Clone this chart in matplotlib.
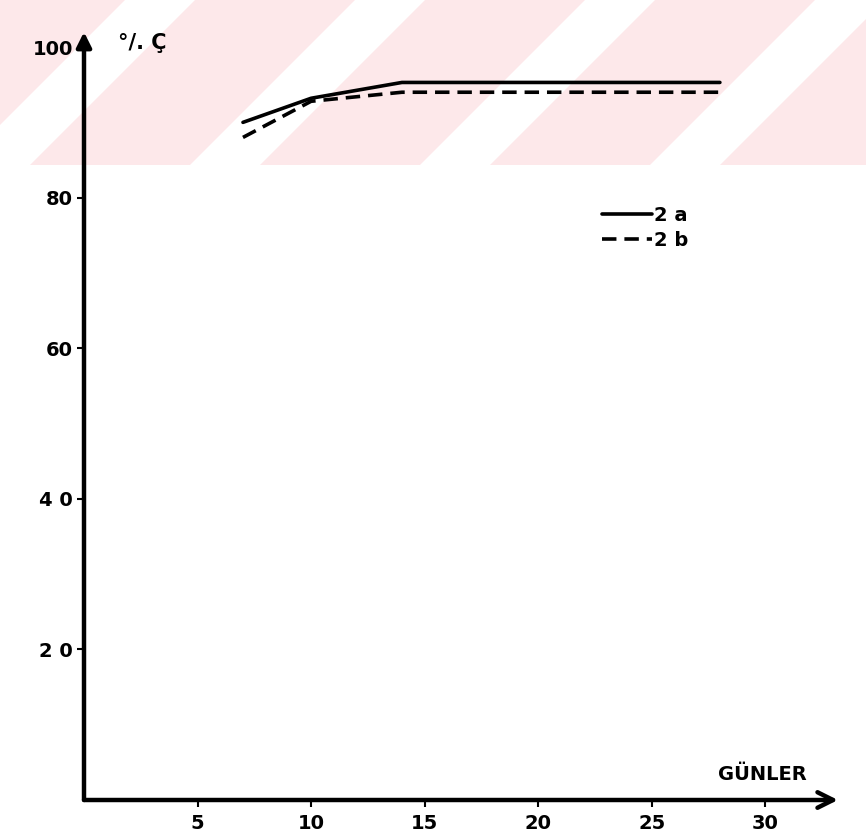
import matplotlib
matplotlib.use("Agg")
import matplotlib.pyplot as plt
from matplotlib.patches import Polygon

# values
days = [7, 10, 14, 28]
series_2a = [90.0, 93.2, 95.3, 95.3]
series_2b = [88.0, 92.8, 94.0, 94.0]
x_ticks = [5, 10, 15, 20, 25, 30]
y_ticks = [20, 40, 60, 80, 100]
y_tick_labels = ["2 0", "4 0", "60", "80", "100"]

W, H = 866, 838
fig = plt.figure(figsize=(W / 100, H / 100), dpi=100)
fig.patch.set_facecolor("white")

# pink diagonal watermark band at the top of the scan
band_h = 165
fig.patches.append(Polygon([(0, 1 - band_h / H), (1, 1 - band_h / H), (1, 1), (0, 1)],
                           closed=True, transform=fig.transFigure,
                           facecolor="#fde8ea", edgecolor="none", zorder=-2))
for x0 in [-40, 190, 420, 650, 880]:
    # white stripe, slanting up to the right
    px = [(x0, band_h), (x0 + 70, band_h), (x0 + 70 + band_h, 0), (x0 + band_h, 0)]
    pts = [(p[0] / W, 1 - p[1] / H) for p in px]
    fig.patches.append(Polygon(pts, closed=True, transform=fig.transFigure,
                               facecolor="white", edgecolor="none", zorder=-1))

ax = fig.add_axes([84 / W, 38 / H, 754 / W, 768 / H])
ax.patch.set_alpha(0)
ax.set_xlim(0, 33.2)
ax.set_ylim(0, 102)

for s in ax.spines.values():
    s.set_visible(False)

# axes drawn as arrows
ax.annotate("", xy=(1, 0), xytext=(0, 0), xycoords="axes fraction",
            arrowprops=dict(arrowstyle="->", lw=3.2, color="black",
                            mutation_scale=28, shrinkA=0, shrinkB=0))
ax.annotate("", xy=(0, 1), xytext=(0, 0), xycoords="axes fraction",
            arrowprops=dict(arrowstyle="-|>", lw=3.2, color="black",
                            mutation_scale=22, shrinkA=0, shrinkB=0))

ax.plot(days, series_2a, color="black", lw=2.6, label="2 a", solid_capstyle="round")
ax.plot(days, series_2b, color="black", lw=2.6, ls=(0, (4, 2.2)), label="2 b")

ax.set_xticks(x_ticks)
ax.set_xticklabels([str(t) for t in x_ticks])
ax.set_yticks(y_ticks)
ax.set_yticklabels(y_tick_labels)
ax.tick_params(axis="both", direction="out", length=5, width=1.5, color="black",
               labelsize=14)
ax.tick_params(axis="x", pad=5)
ax.tick_params(axis="y", pad=3)
for lab in ax.get_xticklabels() + ax.get_yticklabels():
    lab.set_fontweight("bold")

ax.text(0.045, 100.5, "°/. Ç", fontsize=15, fontweight="bold", va="center", ha="left",
        transform=ax.get_yaxis_transform())
ax.text(27.9, 3.4, "GÜNLER", fontsize=14, fontweight="bold", ha="left", va="center")

leg = ax.legend(loc="upper left", bbox_to_anchor=(510 / 754, 1 - (198 - 32) / 768),
                frameon=False, fontsize=14, handlelength=2.6, handletextpad=0.1,
                labelspacing=0.3, borderaxespad=0)
for t in leg.get_texts():
    t.set_fontweight("bold")

fig.savefig("out.png", dpi=100, facecolor=fig.get_facecolor())
